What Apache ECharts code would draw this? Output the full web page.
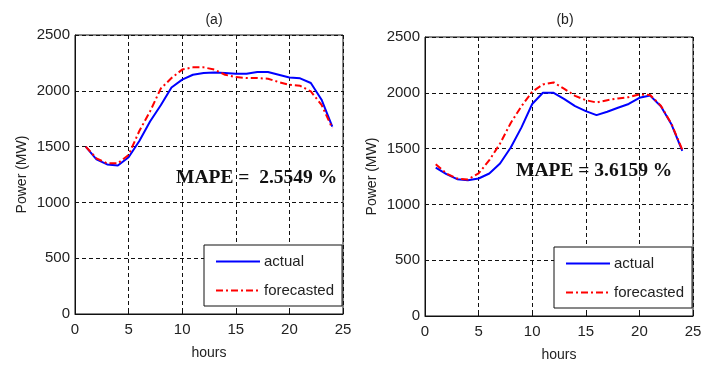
<!DOCTYPE html>
<html>
<head>
<meta charset="utf-8">
<script src="https://cdn.jsdelivr.net/npm/echarts@6/dist/echarts.min.js"></script>
<style>
  html, body { margin: 0; padding: 0; background: #fff; }
  #chart { width: 712px; height: 368px; }
</style>
</head>
<body>
<div id="chart"></div>
<script>
// Hourly load, 24 hours of one day
const hours = [1,2,3,4,5,6,7,8,9,10,11,12,13,14,15,16,17,18,19,20,21,22,23,24];

// Panel (a)
const actualA = [1500,1385,1340,1330,1405,1550,1725,1870,2030,2100,2144,2160,2165,2159,2153,2153,2168,2168,2144,2120,2112,2070,1920,1680];
const forecastA = [1500,1395,1350,1350,1425,1640,1815,2020,2114,2190,2210,2210,2190,2144,2123,2114,2114,2108,2078,2054,2045,1994,1874,1665];

// Panel (b)
const actualB = [1330,1271,1226,1217,1232,1277,1366,1510,1690,1900,2000,2000,1943,1880,1836,1800,1830,1866,1900,1955,1975,1880,1715,1480];
const forecastB = [1360,1277,1232,1223,1277,1396,1545,1730,1880,2010,2075,2093,2035,1973,1934,1913,1934,1949,1961,1985,1980,1885,1720,1490];

const panelTitles = ['(a)', '(b)'];
const mapeTexts = ['MAPE =  2.5549 %', 'MAPE = 3.6159 %'];
const seriesNames = ['actual', 'forecasted'];
const yTicks = { min: 0, max: 2500, interval: 500 };
const xTicks = { min: 0, max: 25, interval: 5 };

const pairs = (ys) => hours.map((h, i) => [h, ys[i]]);

const FONT = '"Liberation Sans", Arial, sans-serif';
const SERIF = '"Liberation Serif", "Times New Roman", serif';
const gridLine = { show: true, lineStyle: { color: '#111', type: [4, 3], width: 1 } };

function xAxis(gridIndex) {
  return {
    type: 'value', gridIndex, min: xTicks.min, max: xTicks.max, interval: xTicks.interval,
    name: 'hours', nameLocation: 'middle', nameGap: 32,
    nameTextStyle: { fontFamily: FONT, fontSize: 14, color: '#222' },
    axisLine: { show: true, onZero: false, lineStyle: { color: '#111', width: 1 } },
    axisTick: { show: true, inside: true, length: 4, lineStyle: { color: '#111' } },
    axisLabel: { fontFamily: FONT, fontSize: 15, color: '#222', margin: 8, formatter: (v) => String(v) },
    splitLine: gridLine
  };
}
function yAxis(gridIndex) {
  return {
    type: 'value', gridIndex, min: yTicks.min, max: yTicks.max, interval: yTicks.interval,
    name: 'Power (MW)', nameLocation: 'middle', nameGap: 46, nameRotate: 90,
    nameTextStyle: { fontFamily: FONT, fontSize: 14, color: '#222' },
    axisLine: { show: true, lineStyle: { color: '#111', width: 1 } },
    axisTick: { show: true, inside: true, length: 4, lineStyle: { color: '#111' } },
    axisLabel: { fontFamily: FONT, fontSize: 15, color: '#222', margin: 5, formatter: (v) => String(v) },
    splitLine: gridLine
  };
}
function actualSeries(idx, data) {
  return {
    name: seriesNames[0], type: 'line', xAxisIndex: idx, yAxisIndex: idx,
    data: pairs(data), symbol: 'none', smooth: false, z: 3,
    lineStyle: { color: '#0000ff', width: 2 }, itemStyle: { color: '#0000ff' }
  };
}
function forecastSeries(idx, data) {
  return {
    name: seriesNames[1], type: 'line', xAxisIndex: idx, yAxisIndex: idx,
    data: pairs(data), symbol: 'none', smooth: false, z: 4,
    lineStyle: { color: '#ff0000', width: 2, type: [7, 3, 2, 3] }, itemStyle: { color: '#ff0000' }
  };
}
function legend(left, top) {
  return {
    data: seriesNames, orient: 'vertical', left, top,
    itemWidth: 44, itemHeight: 14, itemGap: 14,
    padding: [9, 8, 8, 11],
    backgroundColor: '#fff', borderColor: '#111', borderWidth: 1, borderRadius: 0,
    selectedMode: false,
    itemStyle: { opacity: 0 },
    textStyle: { fontFamily: FONT, fontSize: 15, color: '#222', padding: [0, 0, 0, -1] }
  };
}
function mapeTitle(text, left, top) {
  return {
    text, left, top, padding: 0,
    textStyle: { fontFamily: SERIF, fontSize: 19.5, fontWeight: 'bold', color: '#111' }
  };
}

const chart = echarts.init(document.getElementById('chart'), null, { renderer: 'canvas' });
chart.setOption({
  backgroundColor: '#fff',
  animation: false,
  title: [
    { text: panelTitles[0], left: 209, top: 8, textAlign: 'center',
      textStyle: { fontFamily: FONT, fontSize: 14, fontWeight: 'normal', color: '#222' } },
    { text: panelTitles[1], left: 560, top: 8, textAlign: 'center',
      textStyle: { fontFamily: FONT, fontSize: 14, fontWeight: 'normal', color: '#222' } },
    mapeTitle(mapeTexts[0], 176, 168),
    mapeTitle(mapeTexts[1], 516, 161)
  ],
  grid: [
    { left: 75, right: 369, top: 35, bottom: 54, show: true, borderColor: '#111', borderWidth: 1, backgroundColor: '#fff' },
    { left: 425, right: 19, top: 37, bottom: 52, show: true, borderColor: '#111', borderWidth: 1, backgroundColor: '#fff' }
  ],
  xAxis: [xAxis(0), xAxis(1)],
  yAxis: [yAxis(0), yAxis(1)],
  legend: [legend(204, 245), legend(554, 247)],
  series: [
    actualSeries(0, actualA), forecastSeries(0, forecastA),
    actualSeries(1, actualB), forecastSeries(1, forecastB)
  ]
});
</script>
</body>
</html>
